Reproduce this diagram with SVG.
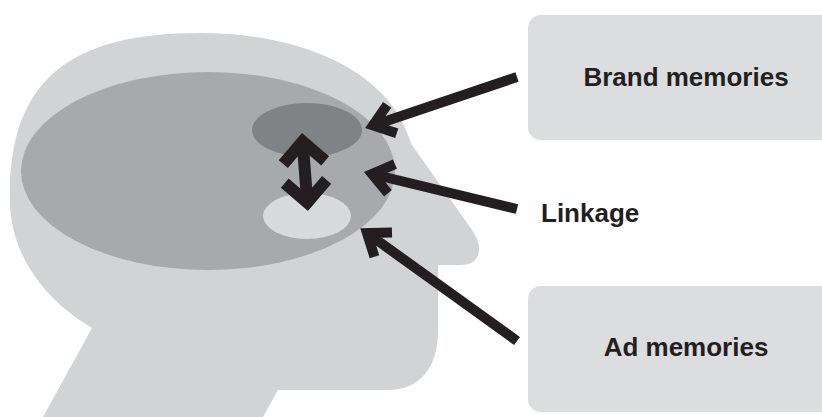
<svg xmlns="http://www.w3.org/2000/svg" width="822" height="417" viewBox="0 0 822 417">
  <style>
    .lbl { font-family: "Liberation Sans", Arial, sans-serif; font-weight: bold; font-size: 26px; fill: #231f20; }
    .box { fill: #dcdddf; }
    .conn { stroke: #231f20; stroke-width: 10; fill: none; stroke-linecap: butt; stroke-linejoin: miter; }
  </style>
  <defs>
    <marker id="chev" markerUnits="userSpaceOnUse" orient="auto" refX="0" refY="0" markerWidth="60" markerHeight="60" viewBox="-30 -30 60 60" overflow="visible">
      <path d="M -20 -15 L 0 0 L -20 15" fill="none" stroke="#231f20" stroke-width="10" stroke-linejoin="miter" stroke-miterlimit="10"/>
    </marker>
    <marker id="chev2" markerUnits="userSpaceOnUse" orient="auto-start-reverse" refX="0" refY="0" markerWidth="60" markerHeight="60" viewBox="-30 -30 60 60" overflow="visible">
      <path d="M -21 -21 L 0 0 L -21 21" fill="none" stroke="#231f20" stroke-width="12" stroke-linejoin="miter" stroke-miterlimit="10"/>
    </marker>
  </defs>

  <g id="head">
    <path d="M 92 328 C 45 300, 10 255, 10 200 C 8 80, 70 33, 200 33 C 300 33, 385 70, 408 135 L 412 145 L 472 230 C 482 244, 484 265, 460 265 L 438 265 L 438 330 C 438 368, 420 390, 387 390 L 278 390 L 263 417 L 43 417 Z" fill="#d1d3d4"/>
  </g>
  <g id="brain">
    <ellipse cx="208" cy="171" rx="187" ry="99" fill="#a7a9ac"/>
  </g>
  <g id="brand-area">
    <ellipse cx="307" cy="130" rx="55" ry="27" fill="#808285"/>
  </g>
  <g id="ad-area">
    <ellipse cx="307" cy="216" rx="44" ry="23" fill="#d9dadc"/>
  </g>

  <g id="brand-box">
    <rect class="box" x="528" y="15" width="310" height="125" rx="13" ry="13"/>
    <text class="lbl" x="686" y="86" text-anchor="middle">Brand memories</text>
  </g>
  <g id="linkage-label">
    <text class="lbl" x="541" y="222">Linkage</text>
  </g>
  <g id="ad-box">
    <rect class="box" x="528" y="286" width="310" height="126" rx="13" ry="13"/>
    <text class="lbl" x="686" y="356" text-anchor="middle">Ad memories</text>
  </g>

  <g id="connectors">
    <path class="conn" d="M 517 77 L 373 125.4" marker-end="url(#chev)"/>
    <path class="conn" d="M 517 209 L 372 174" marker-end="url(#chev)"/>
    <path class="conn" d="M 517 341 L 367 233" marker-end="url(#chev)"/>
    <path class="conn" style="stroke-width:12" d="M 302.6 141.5 L 307.3 202.5" marker-start="url(#chev2)" marker-end="url(#chev2)"/>
  </g>
</svg>
